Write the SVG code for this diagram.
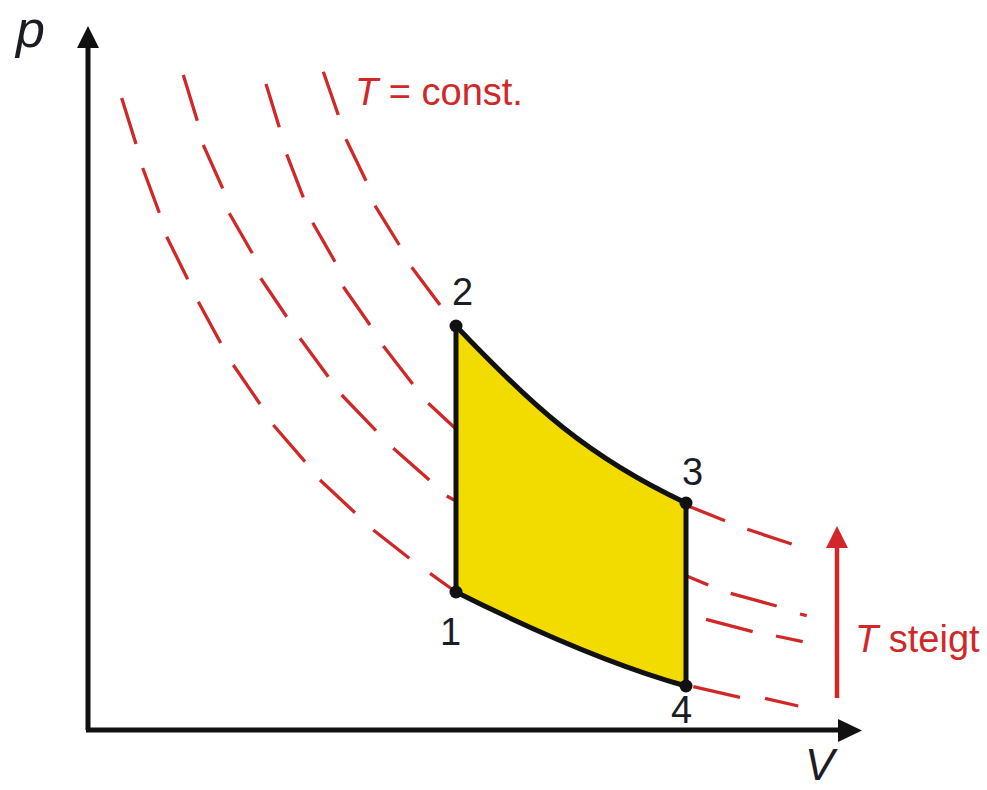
<svg xmlns="http://www.w3.org/2000/svg" width="987" height="790" viewBox="0 0 987 790">
  <style>
    .iso { fill: none; stroke: #d02828; stroke-width: 3.3; stroke-linecap: butt; }
    .axis { stroke: #111; stroke-width: 5; fill: none; }
    .head { fill: #111; }
    .edge { fill: none; stroke: #111; stroke-width: 5; stroke-linejoin: round; stroke-linecap: round; }
    .dot { fill: #111; }
    .num { font-family: "Liberation Sans", Arial, sans-serif; font-size: 38px; fill: #1c1c24; }
    .red { font-family: "Liberation Sans", Arial, sans-serif; font-size: 38px; fill: #d02828; }
    .ax { font-family: "Liberation Sans", Arial, sans-serif; font-style: italic; fill: #1c1c24; }
  </style>
  <rect width="987" height="790" fill="#ffffff"/>

  <g id="isotherms">
    <path class="iso" d="M121.7,98 L136,144 M142.7,168 L159.3,212.7 M166.7,236.7 L187.7,279.3 M198.3,301.7 L220.7,343 M233.3,365 L260,404 M273.3,425 L305,461.7 M320,480 L355,512.7 M373.3,530 L409.3,558.3 M430,573.3 L456,592 M693.3,686.7 L740,697.3 M765,698.3 L798.3,706"/>
    <path class="iso" d="M183.3,75 L197.3,120.7 M203.3,145 L222.7,188.3 M229.3,213.3 L252.3,253.3 M260.7,278.3 L286.7,316.7 M300,338.3 L328.3,376.7 M341.7,395 L376,430.7 M393.3,448.3 L429.3,480 M446.7,496 L456,501 M706,619.3 L752.7,631.7 M776,636 L802.7,641.7"/>
    <path class="iso" d="M266,84 L279.3,127.3 M286.7,154.3 L303.3,197.3 M312.7,222.7 L335,261.7 M343.3,286.7 L370,325 M383.3,346 L412.7,384 M428.3,403.3 L456,429 M686.7,576 L708.3,585 M730.7,593.3 L776.7,606 M800,614 L806.7,615.7"/>
    <path class="iso" d="M323.3,71.7 L338.3,115 M346,139.3 L366,180.7 M375,205.7 L399.3,245 M411.7,267.3 L440,305 M690,506.7 L725,520.7 M747.3,529.3 L791.7,544"/>
  </g>

  <g id="axes">
    <line class="axis" x1="88" y1="730" x2="88" y2="44"/>
    <polygon class="head" points="88,26 77,48 99,48"/>
    <line class="axis" x1="86" y1="730" x2="842" y2="730"/>
    <polygon class="head" points="862,730.5 838,719 838,742"/>
    <text class="ax" x="16" y="47" font-size="52">p</text>
    <text class="ax" x="805" y="780" font-size="44">V</text>
  </g>

  <g id="cycle">
    <path d="M456,326 C531.9,405.6 586.4,456.2 686,503 L686,686 C611.8,665.2 524.8,626.4 456,592 Z" fill="#f2dc00" stroke="none"/>
    <g id="connectors">
      <path class="edge" d="M456,326 C531.9,405.6 586.4,456.2 686,503"/>
      <path class="edge" d="M686,503 L686,686"/>
      <path class="edge" d="M686,686 C611.8,665.2 524.8,626.4 456,592"/>
      <path class="edge" d="M456,592 L456,326"/>
    </g>
  </g>

  <g id="state-1">
    <circle class="dot" cx="456" cy="592" r="6.5"/>
    <text class="num" x="440" y="645">1</text>
  </g>
  <g id="state-2">
    <circle class="dot" cx="456" cy="326" r="6.5"/>
    <text class="num" x="452" y="305">2</text>
  </g>
  <g id="state-3">
    <circle class="dot" cx="686" cy="503" r="6.5"/>
    <text class="num" x="682" y="485">3</text>
  </g>
  <g id="state-4">
    <circle class="dot" cx="686" cy="686" r="6.5"/>
    <text class="num" x="671" y="723">4</text>
  </g>

  <g id="label-const">
    <text class="red" x="355" y="105"><tspan font-style="italic">T</tspan> = const.</text>
  </g>

  <g id="label-steigt">
    <line x1="837" y1="698" x2="837" y2="544" stroke="#d02828" stroke-width="4.5"/>
    <polygon points="837,526 826,548 848,548" fill="#d02828"/>
    <text class="red" x="855" y="652"><tspan font-style="italic">T</tspan> steigt</text>
  </g>
</svg>
